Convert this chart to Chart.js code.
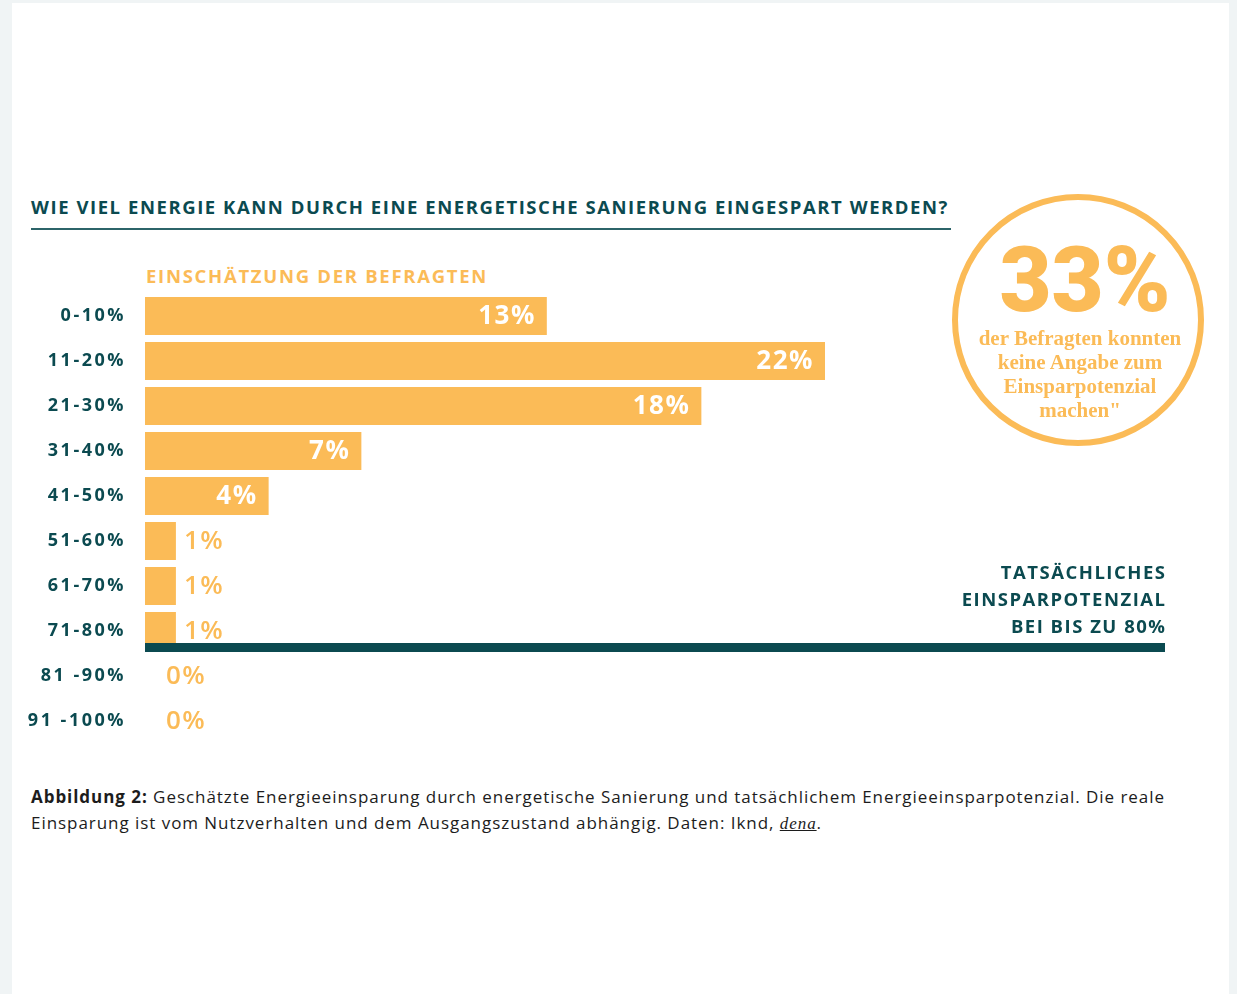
<!DOCTYPE html>
<html lang="de">
<head>
<meta charset="utf-8">
<title>Energieeinsparung durch Sanierung</title>
<script src="https://cdn.jsdelivr.net/npm/chart.js@4.4.1/dist/chart.umd.min.js"></script>
<style>
  body {
    margin: 0;
    width: 1237px;
    height: 994px;
    overflow: hidden;
    background: #f0f4f5;
    font-family: "Open Sans", sans-serif;
  }
  .card {
    position: absolute;
    left: 12px;
    top: 3px;
    width: 1217px;
    height: 991px;
    background: #fff;
  }
  .abs {
    position: absolute;
    white-space: nowrap;
  }
  .title {
    left: 31px;
    top: 196px;
    font-size: 18.5px;
    line-height: 22px;
    font-weight: 700;
    color: #0b4a50;
  }
  .title-rule {
    left: 31px;
    top: 228px;
    width: 920px;
    height: 1.5px;
    background: #2c6469;
  }
  .subtitle {
    left: 146px;
    top: 265px;
    font-size: 18.5px;
    line-height: 22px;
    font-weight: 700;
    color: #fbbb57;
  }
  .chart-wrap {
    position: absolute;
    left: 12px;
    top: 288px;
    width: 1180px;
    height: 462px;
  }
  .actual {
    right: 70.5px;
    top: 558px;
    text-align: right;
    font-size: 18.5px;
    line-height: 27px;
    font-weight: 700;
    color: #0b4a50;
    letter-spacing: 1.5px;
  }
  .circle {
    position: absolute;
    left: 952px;
    top: 194px;
    width: 252px;
    height: 252px;
    box-sizing: border-box;
    border: 6px solid #fbbb57;
    border-radius: 50%;
    color: #fbbb57;
    text-align: center;
  }
  .circle-big {
    position: absolute;
    left: 0;
    right: -14px;
    top: 36px;
    font-family: Roboto, sans-serif;
    font-size: 90px;
    line-height: 90px;
    font-weight: 900;
  }
  .circle-text {
    position: absolute;
    left: 0;
    right: -4px;
    top: 126px;
    font-family: "Liberation Serif", serif;
    font-size: 21px;
    line-height: 24px;
    font-weight: 700;
  }
  .caption {
    left: 31px;
    top: 784px;
    font-family: "Open Sans", sans-serif;
    font-size: 17px;
    line-height: 26px;
    color: #1c1c1c;
  }
  .caption b {
    font-weight: 700;
  }
  .caption .src {
    font-family: "Liberation Serif", serif;
    font-style: italic;
    text-decoration: underline;
  }
</style>
</head>
<body>
<div class="card"></div>

<div class="abs title" id="title">WIE VIEL ENERGIE KANN DURCH EINE ENERGETISCHE SANIERUNG EINGESPART WERDEN?</div>
<div class="abs title-rule"></div>
<div class="abs subtitle" id="subtitle">EINSCHÄTZUNG DER BEFRAGTEN</div>

<div class="chart-wrap">
  <canvas id="chart" width="1180" height="462"></canvas>
</div>

<div class="abs actual">TATSÄCHLICHES<br>EINSPARPOTENZIAL<br>BEI BIS ZU 80%</div>

<div class="circle">
  <div class="circle-big">33%</div>
  <div class="circle-text">der Befragten konnten<br>keine Angabe zum<br>Einsparpotenzial<br>machen"</div>
</div>

<div class="abs caption">
  <div id="caption1"><b>Abbildung 2:</b> Geschätzte Energieeinsparung durch energetische Sanierung und tatsächlichem Energieeinsparpotenzial. Die reale</div>
  <div id="caption2">Einsparung ist vom Nutzverhalten und dem Ausgangszustand abhängig. Daten: Iknd, <span class="src">dena</span>.</div>
</div>

<script>
const categories = [`0-10%`, `11-20%`, `21-30%`, `31-40%`, `41-50%`, `51-60%`, `61-70%`, `71-80%`, `81 -90%`, `91 -100%`];
const shares = [13, 22, 18, 7, 4, 1, 1, 1, 0, 0];
const shareLabels = shares.map((it) => `${it}%`);

// last class that is actually reachable (71-80%)
const actualLimitIndex = 7;
const axisMax = 33;

const TEAL = `#0b4a50`;
const ORANGE = `#fbbb57`;

const tickSpacing = {
  id: `tickSpacing`,
  beforeDraw(chart) {
    chart.ctx.letterSpacing = `2.5px`;
  },
  afterDraw(chart) {
    chart.ctx.letterSpacing = `0px`;
  }
};

const valueLabels = {
  id: `valueLabels`,
  afterDatasetsDraw(chart) {
    const {ctx} = chart;
    const xScale = chart.scales.x;
    const base = xScale.getPixelForValue(0);
    const bars = chart.getDatasetMeta(0).data;

    ctx.save();
    ctx.letterSpacing = `1.5px`;
    ctx.textBaseline = `middle`;
    bars.forEach((bar, i) => {
      if (shares[i] >= 3) {
        ctx.font = `bold 26px "Open Sans"`;
        ctx.fillStyle = `#fff`;
        ctx.textAlign = `right`;
        ctx.fillText(shareLabels[i], bar.x - 11, bar.y + 1);
      } else {
        ctx.font = `600 26px "Open Sans"`;
        ctx.fillStyle = ORANGE;
        ctx.textAlign = `left`;
        ctx.fillText(shareLabels[i], Math.max(bar.x + 8, base + 21), bar.y + 1);
      }
    });
    ctx.restore();
  }
};

const limitLine = {
  id: `limitLine`,
  afterDatasetsDraw(chart) {
    const {ctx, chartArea} = chart;
    const y = chart.scales.y.getPixelForValue(actualLimitIndex + 0.5) - 6;
    ctx.save();
    ctx.fillStyle = TEAL;
    ctx.fillRect(chartArea.left, y - 4.5, chartArea.right - chartArea.left, 9);
    ctx.restore();
  }
};

new Chart(document.getElementById(`chart`), {
  type: `bar`,
  data: {
    labels: categories,
    datasets: [{
      data: shares,
      backgroundColor: ORANGE,
      borderWidth: 0,
      barPercentage: 0.84,
      categoryPercentage: 1
    }]
  },
  options: {
    indexAxis: `y`,
    responsive: false,
    animation: false,
    layout: {
      padding: {top: 5.5, bottom: 6.5, left: 0, right: 27}
    },
    plugins: {
      legend: {display: false},
      tooltip: {enabled: false}
    },
    scales: {
      x: {
        display: false,
        min: 0,
        max: axisMax
      },
      y: {
        grid: {display: false, drawTicks: false},
        border: {display: false},
        afterFit(scale) {
          scale.width = 133;
          scale.paddingTop = 0;
          scale.paddingBottom = 0;
        },
        ticks: {
          padding: 19,
          color: TEAL,
          font: {family: `"Open Sans"`, size: 18, weight: `bold`}
        }
      }
    }
  },
  plugins: [tickSpacing, valueLabels, limitLine]
});

const fitWidth = (el, width) => {
  const natural = el.getBoundingClientRect().width;
  const spacing = (width - natural) / el.textContent.length;
  el.style.letterSpacing = `${spacing}px`;
  return spacing;
};

document.fonts.ready.then(() => {
  ['title', 'subtitle', 'caption1'].forEach((id) => {
    document.getElementById(id).style.display = `inline-block`;
  });
  fitWidth(document.getElementById(`title`), 918);
  fitWidth(document.getElementById(`subtitle`), 342);
  const spacing = fitWidth(document.getElementById(`caption1`), 1134);
  document.getElementById(`caption2`).style.letterSpacing = `${spacing}px`;
});
</script>
</body>
</html>
